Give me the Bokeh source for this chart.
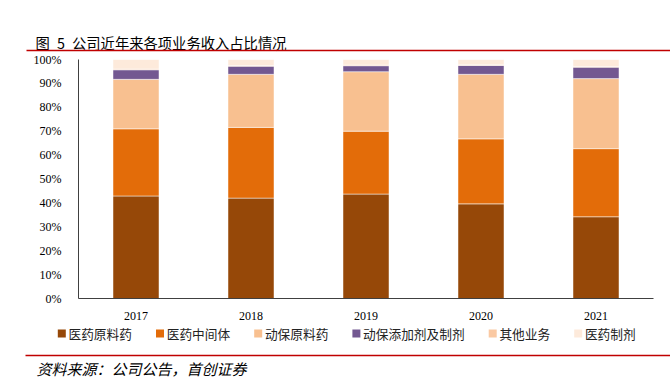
from bokeh.plotting import figure
from bokeh.layouts import column
from bokeh.models import Range1d, NumeralTickFormatter, FixedTicker
from bokeh.core.properties import value
from bokeh.embed import file_html
from bokeh.resources import INLINE

years = ["2017", "2018", "2019", "2020", "2021"]
series = ["医药原料药", "医药中间体", "动保原料药", "动保添加剂及制剂", "其他业务", "医药制剂"]
yy_ylj = [0.429, 0.420, 0.437, 0.396, 0.342]   # 医药原料药
yy_zjt = [0.281, 0.296, 0.263, 0.272, 0.285]   # 医药中间体
db_ylj = [0.207, 0.222, 0.249, 0.270, 0.293]   # 动保原料药
db_tjj = [0.040, 0.034, 0.025, 0.037, 0.048]   # 动保添加剂及制剂
qt_yw = [0.003, 0.003, 0.003, 0.003, 0.003]    # 其他业务
yy_zj = [0.040, 0.025, 0.023, 0.022, 0.029]    # 医药制剂
y_ticks = [0, 0.1, 0.2, 0.3, 0.4, 0.5, 0.6, 0.7, 0.8, 0.9, 1.0]

title_text = "图\u20025\u2002公司近年来各项业务收入占比情况"
source_text = "资料来源：公司公告，首创证券"

colors = ["#964808", "#E36C09", "#F8C090", "#735891", "#FAC9A3", "#FDEADB"]
W = 670
CJK = "Noto Sans CJK SC"
SERIF = "Liberation Serif"


def deco(h):
    f = figure(width=W, height=h, x_range=Range1d(0, W), y_range=Range1d(0, h),
               output_backend="svg", toolbar_location=None, min_border=0,
               x_axis_location=None, y_axis_location=None, frame_align=False)
    f.grid.visible = False
    f.outline_line_color = None
    return f


# ---- top decoration: title + red rule ----
top = deco(52)
top.text(x=[35], y=[10], text=[title_text], text_font=value(CJK), text_font_size="14.3px",
         text_baseline="middle", text_align="left", text_color="#000000")
top.segment(x0=[26], y0=[2], x1=[W], y1=[2], line_color="#C00000", line_width=1.5)

# ---- main chart ----
data = dict(years=years)
for name, vals in zip(series, [yy_ylj, yy_zjt, db_ylj, db_tjj, qt_yw, yy_zj]):
    data[name] = vals

p = figure(width=W, height=270, x_range=years, y_range=Range1d(0, 1),
           output_backend="svg", toolbar_location=None, frame_align=False,
           min_border_left=78, min_border_right=17, min_border_top=7, min_border_bottom=22)
p.vbar_stack(series, x="years", width=0.4, source=data, color=colors,
             line_color="white", line_width=0.8, line_alpha=0.6)

p.yaxis.ticker = FixedTicker(ticks=y_ticks)
p.yaxis.formatter = NumeralTickFormatter(format="0%")
for ax in (p.xaxis[0], p.yaxis[0]):
    ax.axis_line_color = "#404040"
    ax.axis_line_width = 1
    ax.major_tick_line_color = None
    ax.minor_tick_line_color = None
    ax.major_label_text_font = SERIF
    ax.major_label_text_font_size = "12px"
    ax.major_label_text_color = "#000000"
p.yaxis.major_label_standoff = 11
p.xaxis.major_label_standoff = 7
p.grid.visible = False
p.outline_line_color = None

# ---- bottom decoration: legend + red rule + source ----
bot = deco(60)
char_w = 12.7
sq_left = 57.3
sq_x, tx_x = [], []
for s in series:
    sq_x.append(sq_left + 4)
    tx_x.append(sq_left + 10.7)
    sq_left = sq_left + 10.7 + len(s) * char_w + 24
bot.scatter(x=sq_x, y=[49] * len(series), marker="square", size=8,
            fill_color=colors, line_color=None)
bot.text(x=tx_x, y=[49] * len(series), text=series, text_font=value(CJK),
         text_font_size="12.7px", text_baseline="middle", text_align="left",
         text_color="#222222")
bot.segment(x0=[25], y0=[27], x1=[W], y1=[27], line_color="#C00000", line_width=1.5)
bot.text(x=[36], y=[14], text=[source_text], text_font=value(CJK), text_font_size="15px",
         text_font_style="italic", text_baseline="middle", text_align="left", text_color="#000000")

layout = column(top, p, bot, spacing=0)
open("out.html", "w").write(file_html(layout, INLINE))
